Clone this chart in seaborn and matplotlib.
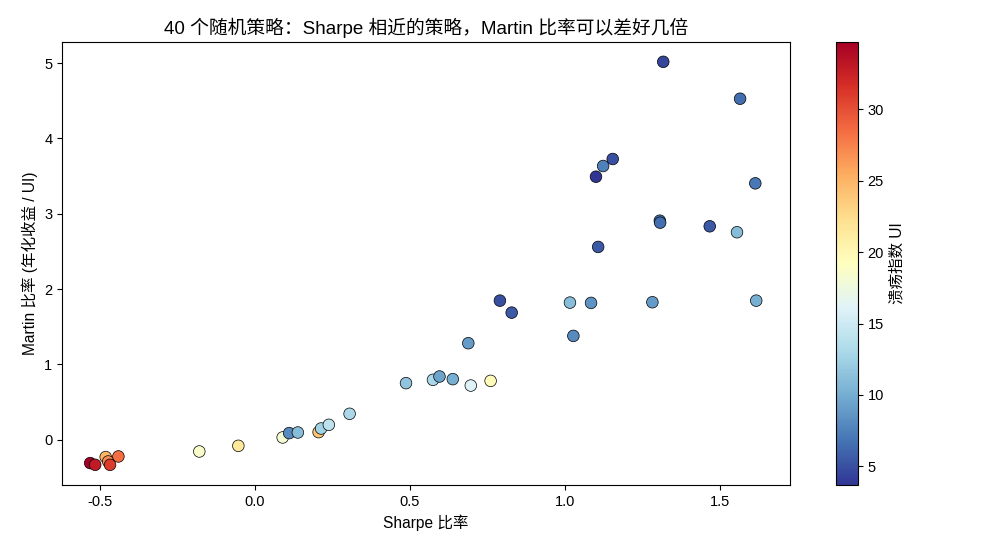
import numpy as np
import pandas as pd
import matplotlib
matplotlib.use("Agg")
import matplotlib.pyplot as plt
import seaborn as sns

plt.rcParams['font.family'] = ['Liberation Sans', 'Noto Sans CJK SC', 'DejaVu Sans']
plt.rcParams['axes.unicode_minus'] = False
plt.rcParams['xtick.labelsize'] = 10.5
plt.rcParams['ytick.labelsize'] = 10.5

# values
sharpe = [-0.532, -0.516, -0.482, -0.474, -0.468, -0.441, -0.180, -0.054, 0.089, 0.110,
          0.138, 0.205, 0.213, 0.238, 0.305, 0.487, 0.574, 0.595, 0.638, 0.696,
          0.760, 0.688, 0.790, 0.828, 1.016, 1.084, 1.027, 1.282, 1.617, 1.107,
          1.306, 1.307, 1.467, 1.555, 1.100, 1.123, 1.154, 1.614, 1.317, 1.565]
martin = [-0.309, -0.332, -0.229, -0.288, -0.332, -0.221, -0.155, -0.080, 0.031, 0.089,
          0.097, 0.102, 0.150, 0.199, 0.345, 0.752, 0.796, 0.840, 0.805, 0.720,
          0.782, 1.282, 1.847, 1.688, 1.821, 1.817, 1.379, 1.826, 1.847, 2.560,
          2.908, 2.882, 2.834, 2.755, 3.492, 3.634, 3.727, 3.404, 5.017, 4.527]
ulcer = [34.7, 33.0, 25.0, 27.0, 31.0, 28.5, 18.5, 21.5, 18.0, 8.0,
         11.0, 24.0, 12.5, 14.0, 13.0, 11.5, 13.0, 9.5, 10.0, 16.0,
         19.5, 9.0, 5.0, 5.5, 11.0, 8.5, 8.0, 9.0, 10.0, 5.5,
         7.0, 6.5, 5.5, 11.0, 3.7, 7.5, 5.0, 7.0, 4.5, 6.5]

df = pd.DataFrame({'sharpe': sharpe, 'martin': martin, 'ui': ulcer})
vmin, vmax = min(ulcer), max(ulcer)

fig = plt.figure(figsize=(9.9, 5.5), dpi=100)
ax = fig.add_axes([62 / 990, 65 / 550, 728 / 990, 443 / 550])
cax = fig.add_axes([836 / 990, 65 / 550, 22 / 990, 443 / 550])

sns.scatterplot(data=df, x='sharpe', y='martin', hue='ui', palette='RdYlBu_r',
                hue_norm=(vmin, vmax), s=70, edgecolor='black', linewidth=0.5,
                legend=False, ax=ax)

ax.set_xlim(-0.623, 1.726)
ax.set_ylim(-0.6, 5.28)
ax.set_xticks([-0.5, 0.0, 0.5, 1.0, 1.5])
ax.set_xlabel('Sharpe 比率', fontsize=11.2)
ax.set_ylabel('Martin 比率 (年化收益 / UI)', fontsize=11.2)
ax.set_title('40 个随机策略：Sharpe 相近的策略，Martin 比率可以差好几倍', fontsize=13.5)

sm = plt.cm.ScalarMappable(cmap='RdYlBu_r', norm=plt.Normalize(vmin, vmax))
cb = fig.colorbar(sm, cax=cax)
cb.set_label('溃疡指数 UI', fontsize=11.2)

fig.savefig('out.png', dpi=100)
